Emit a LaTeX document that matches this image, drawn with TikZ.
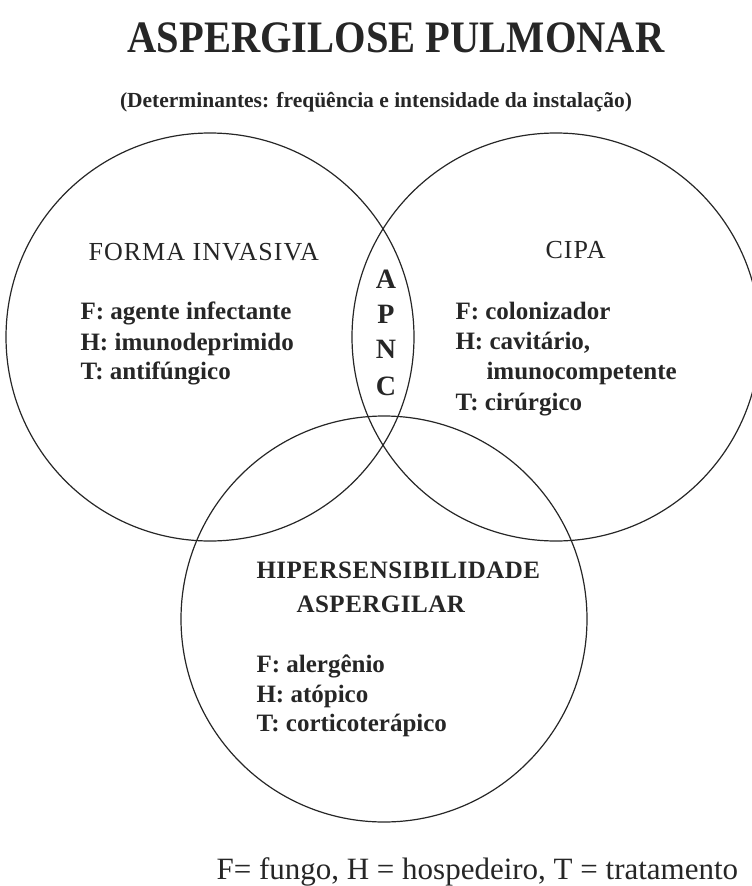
\documentclass[tikz,border=0pt]{standalone}
\usepackage{fontspec}
\setmainfont{Liberation Serif}
\usepackage{tikz}

\begin{document}
\begin{tikzpicture}[x=1pt, y=-1pt,
    ring/.style={draw=black!85, circle, line width=1.2pt, inner sep=0pt},
    head/.style={anchor=base west, text=black!85,
                 font=\fontsize{26}{30}\selectfont\addfontfeature{LetterSpace=4}},
    bhead/.style={anchor=base west, text=black!85,
                  font=\fontsize{25}{30}\selectfont\bfseries\addfontfeature{LetterSpace=2}},
    entry/.style={anchor=base west, text=black!85,
                  font=\fontsize{25}{30}\selectfont\bfseries},
    letter/.style={anchor=base, text=black!85,
                   font=\fontsize{28}{30}\selectfont\bfseries}]
  \useasboundingbox (0,0) rectangle (752,886);

  % title
  \node[anchor=base, xscale=0.9, transform shape, text=black!85,
        font=\fontsize{45}{50}\selectfont\bfseries] (title) at (396,52)
        {ASPERGILOSE PULMONAR};
  \node[anchor=base, text=black!85,
        font=\fontsize{21.5}{24}\selectfont\bfseries] (subtitle) at (376,107)
        {(Determinantes: freqüência e intensidade da instalação)};

  % the three circles
  \node[ring, minimum size=408pt] (invasiva) at (210,337) {};
  \node[ring, minimum size=408pt] (cipa) at (556,337) {};
  \node[ring, minimum size=406pt] (hiper) at (384,619) {};

  % forma invasiva
  \node[head] (invtitle) at (85,260) {FORMA INVASIVA};
  \node[entry] (invf) at (77,319) {F: agente infectante};
  \node[entry] (invh) at (77,350) {H: imunodeprimido};
  \node[entry] (invt) at (77,379) {T: antifúngico};

  % APNC in the lens
  \node[letter] (apncA) at (386,288) {A};
  \node[letter] (apncP) at (386,323) {P};
  \node[letter] (apncN) at (386,358) {N};
  \node[letter] (apncC) at (386,395) {C};

  % cipa
  \node[head] (cipatitle) at (542,258) {CIPA};
  \node[entry] (cipaf) at (452,319) {F: colonizador};
  \node[entry] (cipah) at (452,349) {H: cavitário,};
  \node[entry] (cipah2) at (483,379) {imunocompetente};
  \node[entry] (cipat) at (452,410) {T: cirúrgico};

  % hipersensibilidade
  \node[bhead] (hipertitle) at (253,578) {HIPERSENSIBILIDADE};
  \node[bhead] (hipertitle2) at (293,612) {ASPERGILAR};
  \node[entry] (hiperf) at (253,672) {F: alergênio};
  \node[entry] (hiperh) at (253,702) {H: atópico};
  \node[entry] (hipert) at (253,731) {T: corticoterápico};

  % legend
  \node[anchor=base west, text=black!85,
        font=\fontsize{31}{34}\selectfont] (legend) at (213,879)
        {F= fungo, H = hospedeiro, T = tratamento};
\end{tikzpicture}
\end{document}
